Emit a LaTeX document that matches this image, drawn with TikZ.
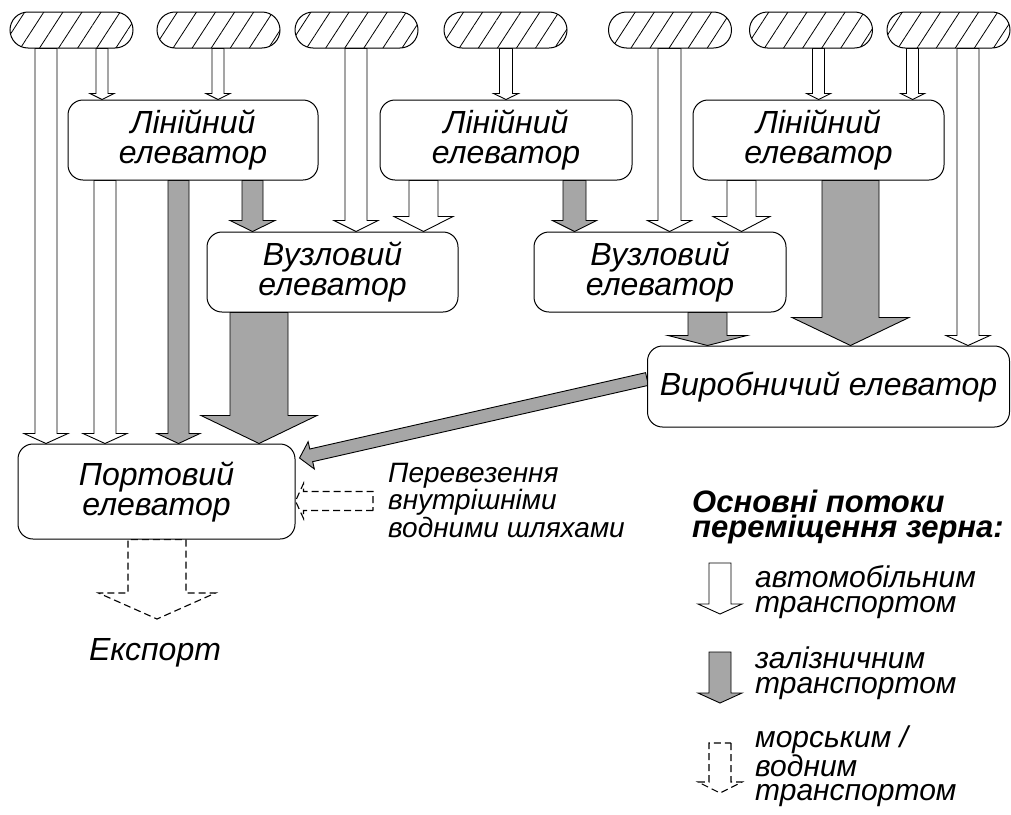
\documentclass[tikz,border=0pt]{standalone}
\usepackage{fontspec}
\setmainfont{Liberation Sans}
\usetikzlibrary{calc,patterns.meta,backgrounds}
\tikzset{
  box/.style={draw, line width=1pt, rounded corners=15pt, fill=white, align=center,
    font=\itshape\fontsize{32}{30}\selectfont},
  field/.style={draw, line width=1pt, rounded corners=18pt, minimum width=123pt, minimum height=36pt,
    preaction={fill=white}, pattern={Lines[angle=57,distance=16pt,line width=0.8pt]}},
  carflow/.style={draw, line width=0.9pt, fill=white},
  railflow/.style={draw, line width=0.9pt, fill=black!35},
  waterflow/.style={draw, line width=1.1pt, dash pattern=on 7pt off 4pt},
  label/.style={inner sep=0pt, align=left, font=\itshape\fontsize{30}{25}\selectfont}
}
% #1 style, #2 from, #3 to, #4 half shaft, #5 half head, #6 head length
\newcommand\flow[6]{%
  \path[#1] let \p1=#2, \p2=#3, \n1={atan2(\y2-\y1,\x2-\x1)}, \n2={veclen(\x2-\x1,\y2-\y1)} in
    [shift={(\p1)}, rotate=\n1] (0,#4) -- (\n2-#6,#4) -- (\n2-#6,#5) -- (\n2,0)
    -- (\n2-#6,-#5) -- (\n2-#6,-#4) -- (0,-#4) -- cycle;}
\begin{document}
\begin{tikzpicture}[x=1pt,y=1pt]
	\useasboundingbox (0,0) rectangle (1011,-814);
	%поля
	\node[field] (pill1) at (71.5,-30) {};
	\node[field] (pill2) at (218.5,-30) {};
	\node[field] (pill3) at (356.5,-30) {};
	\node[field] (pill4) at (505.5,-30) {};
	\node[field] (pill5) at (670,-30) {};
	\node[field] (pill6) at (811,-30) {};
	\node[field] (pill7) at (948.5,-30) {};
	%елеватори
	\node[box, minimum width=250pt, minimum height=80pt] (lin1) at (193,-140) {Лінійний\\елеватор};
	\node[box, minimum width=252pt, minimum height=80pt] (lin2) at (506,-140) {Лінійний\\елеватор};
	\node[box, minimum width=251pt, minimum height=80pt] (lin3) at (818.5,-140) {Лінійний\\елеватор};
	\node[box, minimum width=251pt, minimum height=80pt] (nod1) at (332.5,-272) {Вузловий\\елеватор};
	\node[box, minimum width=252pt, minimum height=80pt] (nod2) at (660,-272) {Вузловий\\елеватор};
	\node[box, minimum width=362pt, minimum height=81pt] (prod) at (828.5,-386.5) {Виробничий елеватор};
	\node[box, minimum width=277pt, minimum height=95pt] (port) at (156.5,-491.5) {Портовий\\елеватор};
	\node[label, anchor=base west, font=\itshape\fontsize{28}{23}\selectfont] (water) at (388,-537)
		{Перевезення\\внутрішніми\\водними шляхами};
	\node[label, anchor=base, font=\itshape\fontsize{32}{30}\selectfont] (export) at (155,-660) {Експорт};
	\coordinate (waterin) at (373,-501);
	\coordinate (exporttip) at (157,-619);
	%легенда
	\node[label, anchor=base west, font=\bfseries\itshape\fontsize{31}{25}\selectfont] (legend) at (692,-537)
		{Основні потоки\\переміщення зерна:};
	\node[label, anchor=base west] (carkey) at (755,-612) {автомобільним\\транспортом};
	\node[label, anchor=base west] (railkey) at (755,-693) {залізничним\\транспортом};
	\node[label, anchor=base west, font=\itshape\fontsize{30}{24}\selectfont] (waterkey) at (755,-800)
		{морським /\\водним\\транспортом};
	\coordinate (k1a) at (720,-563); \coordinate (k1b) at (720,-614);
	\coordinate (k2a) at (720,-652); \coordinate (k2b) at (720,-703);
	\coordinate (k3a) at (720,-743); \coordinate (k3b) at (720,-793);
	\begin{scope}[on background layer]
	\flow{carflow}{(pill1.south -| 46,0)}{(port.north -| 46,0)}{11}{22}{10}
	\flow{carflow}{(pill1.south -| 102,0)}{(lin1.north -| 102,0)}{6}{12}{6}
	\flow{carflow}{(pill2.south -| 218,0)}{(lin1.north -| 218,0)}{6}{12}{6}
	\flow{carflow}{(lin1.south -| 105,0)}{(port.north -| 105,0)}{11}{22}{10}
	\flow{railflow}{(lin1.south -| 178.5,0)}{(port.north -| 178.5,0)}{10.5}{21.5}{10}
	\flow{railflow}{(lin1.south -| 252.5,0)}{(nod1.north -| 252.5,0)}{10.5}{22.5}{11}
	\flow{railflow}{(nod1.south -| 259,0)}{(port.north -| 259,0)}{29}{58}{28}
	\flow{carflow}{(pill3.south -| 356,0)}{(nod1.north -| 356,0)}{11}{22}{11}
	\flow{carflow}{(lin2.south -| 423.5,0)}{(nod1.north -| 423.5,0)}{14.5}{29.5}{15}
	\flow{carflow}{(pill4.south -| 506,0)}{(lin2.north -| 506,0)}{6.5}{12.5}{6}
	\flow{railflow}{(lin2.south -| 574.5,0)}{(nod2.north -| 574.5,0)}{11.5}{22}{11}
	\flow{carflow}{(pill5.south -| 669.5,0)}{(nod2.north -| 669.5,0)}{11.5}{22}{11}
	\flow{carflow}{(lin3.south -| 741.5,0)}{(nod2.north -| 741.5,0)}{14.5}{28.5}{15}
	\flow{carflow}{(pill6.south -| 818.5,0)}{(lin3.north -| 818.5,0)}{6}{12}{6}
	\flow{carflow}{(pill7.south -| 912.5,0)}{(lin3.north -| 912.5,0)}{6}{12}{6}
	\flow{carflow}{(pill7.south -| 968,0)}{(prod.north -| 968,0)}{11}{22}{10}
	\flow{railflow}{(lin3.south -| 850.5,0)}{(prod.north -| 850.5,0)}{28.5}{58.5}{28}
	\flow{railflow}{(nod2.south -| 707.5,0)}{(prod.north -| 707.5,0)}{19.5}{39.5}{10}
	\flow{railflow}{(prod.west |- 0,-379)}{($(port.east |- 0,-458)+(4,0)$)}{6.5}{14}{12}
	\flow{waterflow}{(waterin)}{(port.east |- waterin)}{9.5}{17.5}{8}
	\flow{waterflow}{(port.south -| exporttip)}{(exporttip)}{29}{58.5}{26}
	\end{scope}
	\flow{carflow}{(k1a)}{(k1b)}{11}{22}{10}
	\flow{railflow}{(k2a)}{(k2b)}{11}{22}{10}
	\flow{waterflow}{(k3a)}{(k3b)}{11}{22}{11}
\end{tikzpicture}
\end{document}
